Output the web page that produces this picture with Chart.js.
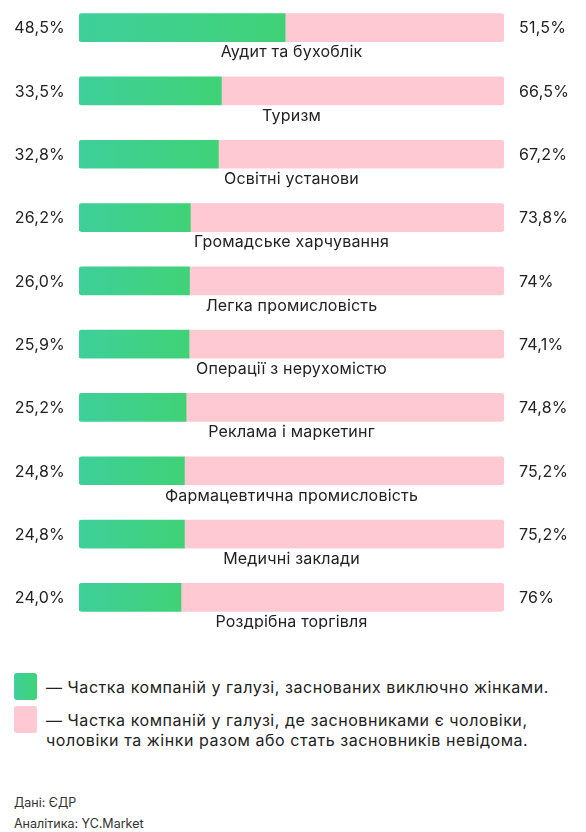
<!DOCTYPE html>
<html>
<head>
<meta charset="utf-8">
<script src="https://cdn.jsdelivr.net/npm/chart.js@4"></script>
<style>
  html, body { margin: 0; padding: 0; background: #fff; }
  body { width: 586px; height: 832px; overflow: hidden; font-family: Inter, "Noto Sans", sans-serif; color: #222; }
  #wrap { position: relative; top: -4.4px; width: 586px; height: 633px; }
  .legend { position: absolute; left: 14px; top: 673px; width: 570px; }
  .row { display: flex; align-items: flex-start; margin-bottom: 6px; }
  .sw { width: 23px; height: 27px; border-radius: 3px; flex: none; margin-right: 9px; }
  .txt { font-size: 16px; line-height: 20px; padding-top: 4px; color: #222; letter-spacing: 0.55px; white-space: nowrap; }
  .foot { position: absolute; left: 14px; top: 792px; font-size: 12.5px; line-height: 21px; color: #333; }
</style>
</head>
<body>
<div id="wrap"><canvas id="chart1"></canvas></div>
<div class="legend">
  <div class="row"><div class="sw" style="background: linear-gradient(90deg, #3ecf9b, #40d276);"></div><div class="txt">— Частка компаній у галузі, заснованих виключно жінками.</div></div>
  <div class="row"><div class="sw" style="background: #ffc9d3;"></div><div class="txt">— Частка компаній у галузі, де засновниками є чоловіки,<br>чоловіки та жінки разом або стать засновників невідома.</div></div>
</div>
<div class="foot">Дані: ЄДР<br>Аналітика: YC.Market</div>
<script>
let labels = ['Аудит та бухоблік', 'Туризм', 'Освітні установи', 'Громадське харчування', 'Легка промисловість',
  'Операції з нерухомістю', 'Реклама і маркетинг', 'Фармацевтична промисловість', 'Медичні заклади', 'Роздрібна торгівля'];
let women = [48.5, 33.5, 32.8, 26.2, 26.0, 25.9, 25.2, 24.8, 24.8, 24.0];
let others = [51.5, 66.5, 67.2, 73.8, 74, 74.1, 74.8, 75.2, 75.2, 76];
let womenText = ['48,5%', '33,5%', '32,8%', '26,2%', '26,0%', '25,9%', '25,2%', '24,8%', '24,8%', '24,0%'];
let othersText = ['51,5%', '66,5%', '67,2%', '73,8%', '74%', '74,1%', '74,8%', '75,2%', '75,2%', '76%'];

let ctx1 = document.getElementById('chart1');

function greenFill(c) {
  let chart = c.chart;
  if (!chart.chartArea) return '#3fd187';
  let x = chart.scales.x;
  let g = chart.ctx.createLinearGradient(x.getPixelForValue(0), 0, x.getPixelForValue(c.raw), 0);
  g.addColorStop(0, '#3ecf9b');
  g.addColorStop(1, '#40d276');
  return g;
}

let textPlugin = {
  id: 'textPlugin',
  afterDatasetsDraw(chart) {
    let c = chart.ctx;
    let m0 = chart.getDatasetMeta(0);
    c.save();
    c.fillStyle = '#222';
    c.font = '16px Inter, "Noto Sans", sans-serif';
    c.letterSpacing = '0.2px';
    c.textBaseline = 'middle';
    for (let i = 0; i < labels.length; i++) {
      let y = m0.data[i].y + 1;
      c.textAlign = 'right';
      c.fillText(womenText[i], 65, y);
      c.textAlign = 'left';
      c.fillText(othersText[i], 519, y);
      c.textAlign = 'center';
      c.fillText(labels[i], (chart.chartArea.left + chart.chartArea.right) / 2, y + 24);
    }
    c.restore();
  }
};

let chart1 = new Chart(ctx1, {
  type: 'bar',
  data: {
    labels: labels,
    datasets: [{
      label: 'Жінки',
      data: women,
      backgroundColor: greenFill,
      borderRadius: { topLeft: 3, bottomLeft: 3, topRight: 0, bottomRight: 0 },
      borderSkipped: false,
      barThickness: 28
    }, {
      label: 'Інші',
      data: others,
      backgroundColor: '#ffc9d3',
      borderRadius: { topLeft: 0, bottomLeft: 0, topRight: 3, bottomRight: 3 },
      borderSkipped: false,
      barThickness: 28
    }]
  },
  options: {
    indexAxis: 'y',
    responsive: true,
    maintainAspectRatio: false,
    animation: false,
    layout: { padding: { left: 79, right: 82, top: 0, bottom: 0 } },
    plugins: { legend: { display: false }, tooltip: { enabled: false } },
    scales: {
      x: { stacked: true, min: 0, max: 100, display: false },
      y: { stacked: true, display: false }
    }
  },
  plugins: [textPlugin]
});
</script>
</body>
</html>
